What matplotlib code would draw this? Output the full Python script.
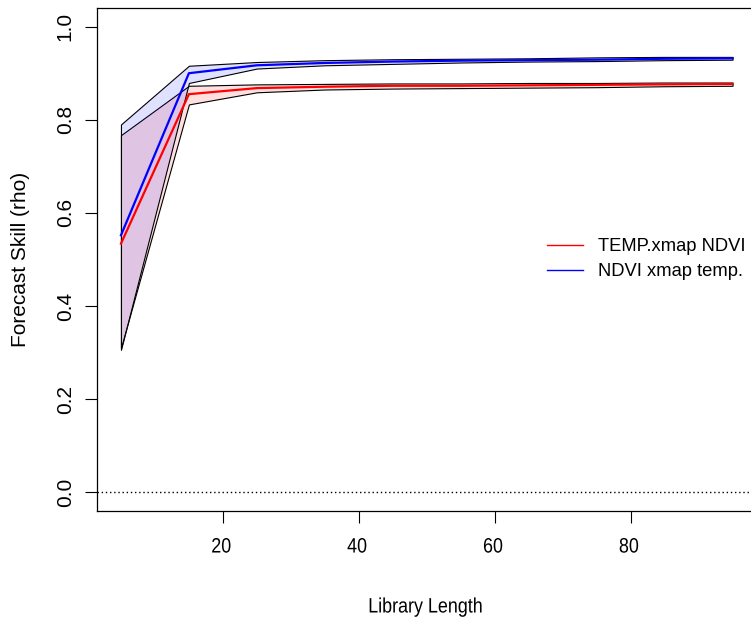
import matplotlib
matplotlib.use("Agg")
import matplotlib.pyplot as plt
from matplotlib.patheffects import AbstractPathEffect
from matplotlib.transforms import Affine2D

# library lengths
lib_size = [5, 15, 25, 35, 45, 55, 65, 75, 85, 95]

# TEMP xmap NDVI (red)
temp_mean = [0.534, 0.855, 0.868, 0.871, 0.873, 0.873, 0.874, 0.875, 0.876, 0.877]
temp_upper = [0.767, 0.873, 0.876, 0.877, 0.878, 0.878, 0.879, 0.879, 0.880, 0.880]
temp_lower = [0.310, 0.833, 0.859, 0.865, 0.867, 0.868, 0.869, 0.870, 0.872, 0.873]

# NDVI xmap temp (blue)
ndvi_mean = [0.552, 0.900, 0.917, 0.922, 0.925, 0.927, 0.928, 0.929, 0.931, 0.932]
ndvi_upper = [0.790, 0.916, 0.924, 0.928, 0.930, 0.931, 0.932, 0.934, 0.935, 0.935]
ndvi_lower = [0.306, 0.879, 0.910, 0.917, 0.920, 0.923, 0.925, 0.926, 0.928, 0.929]

legend_labels = ["TEMP.xmap NDVI", "NDVI xmap temp."]


class Squeeze(AbstractPathEffect):
    # narrow the glyphs horizontally, the reference text looks condensed
    def __init__(self, sx=0.86):
        super().__init__()
        self.sx = sx

    def draw_path(self, renderer, gc, tpath, affine, rgbFace=None):
        m = affine.get_matrix()
        tx, ty = m[0, 2], m[1, 2]
        aff = affine + Affine2D().translate(-tx, -ty).scale(self.sx, 1).translate(tx, ty)
        renderer.draw_path(gc, tpath, aff, rgbFace)


def main():
    plt.rcParams['font.family'] = ['Liberation Sans', 'DejaVu Sans']
    fs = 15
    leg_fs = 13.2
    sq = [Squeeze(0.86)]

    fig = plt.figure(figsize=(7.51, 6.19), dpi=100)
    ax = fig.add_axes([96.5 / 751, 1 - 511 / 619, 660.5 / 751, 503 / 619])

    ax.plot(lib_size, temp_mean, color="red", lw=1.6, zorder=3)
    ax.fill_between(lib_size, temp_lower, temp_upper, facecolor=(1, 0, 0, 0.12),
                    edgecolor="black", lw=0.8, zorder=2)
    ax.plot(lib_size, ndvi_mean, color="blue", lw=1.6, zorder=3)
    ax.fill_between(lib_size, ndvi_lower, ndvi_upper, facecolor=(0, 0, 1, 0.12),
                    edgecolor="black", lw=0.8, zorder=2)

    ax.axhline(0, color="black", lw=1, ls=(0, (1, 2)))

    ax.set_xlim(1.4, 98.6)
    ax.set_ylim(-0.04, 1.04)
    ax.set_xticks([20, 40, 60, 80])
    ax.set_yticks([0.0, 0.2, 0.4, 0.6, 0.8, 1.0])
    ax.set_yticklabels(["0.0", "0.2", "0.4", "0.6", "0.8", "1.0"])
    ax.tick_params(direction="out", length=8.6, width=0.8, labelsize=fs)
    ax.tick_params(axis="x", pad=10.5)
    ax.tick_params(axis="y", pad=7)
    plt.setp(ax.get_yticklabels(), rotation=90, va="center")
    for t in ax.get_xticklabels():
        t.set_path_effects(sq)
    for s in ax.spines.values():
        s.set_linewidth(0.9)

    xl = ax.set_xlabel("Library Length", fontsize=fs, va="center")
    xl.set_path_effects(sq)
    ax.xaxis.set_label_coords((435 - 96.5) / 660.5, -(607 - 511) / 503)
    ax.set_ylabel("Forecast Skill (rho)", fontsize=fs, va="center")
    ax.yaxis.set_label_coords((20 - 96.5) / 660.5, 0.5)

    h1, = ax.plot([], [], color="red", lw=1)
    h2, = ax.plot([], [], color="blue", lw=1)
    ax.legend([h1, h2], legend_labels, loc="upper left",
              bbox_to_anchor=(547 / 751, 1 - 238 / 619), bbox_transform=fig.transFigure,
              frameon=False, fontsize=leg_fs, borderaxespad=0, borderpad=0,
              handlelength=1.95, handletextpad=0.85, labelspacing=0.44)

    fig.savefig("out.png", dpi=100)


if __name__ == "__main__":
    main()
